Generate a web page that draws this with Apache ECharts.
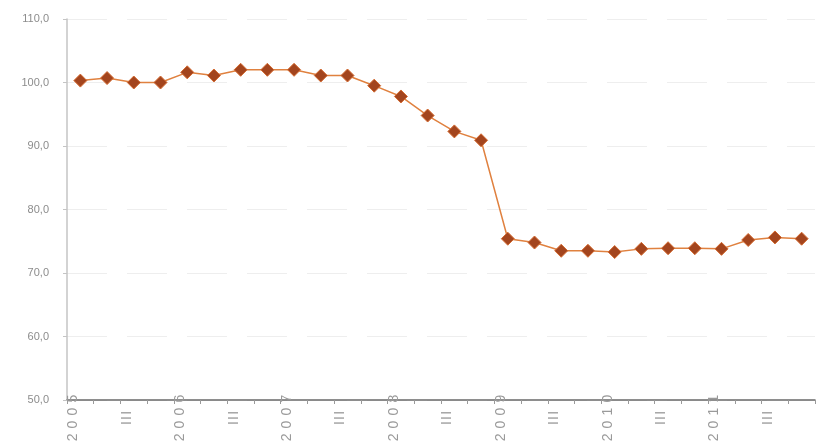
<!DOCTYPE html>
<html>
<head>
<meta charset="utf-8">
<script src="https://cdn.jsdelivr.net/npm/echarts@6/dist/echarts.min.js"></script>
<style>
  html, body { margin: 0; padding: 0; background: #ffffff; }
  #chart { width: 816px; height: 445px; }
</style>
</head>
<body>
<div id="chart"></div>
<script>
// Quarterly index, 2005 Q1 – 2011 Q4
const years = ['2005', '2006', '2007', '2008', '2009', '2010', '2011'];
const quarterMarks = ['year', '', 'III', ''];   // label shown for Q1, Q2, Q3, Q4
const indexValues = [
  100.3, 100.7, 100.0, 100.0,
  101.6, 101.1, 102.0, 102.0,
  102.0, 101.1, 101.1,  99.5,
   97.8,  94.8,  92.3,  90.9,
   75.4,  74.8,  73.5,  73.5,
   73.3,  73.8,  73.9,  73.9,
   73.8,  75.2,  75.6,  75.4
];
const yTicks = { min: 50, max: 110, step: 10 };

const categories = [];
years.forEach(y => quarterMarks.forEach(q => categories.push(q === 'year' ? y : q)));

// spread characters of the category labels out
function spaced(text) {
  if (!text) return '';
  return text.split('').map(c => (c === 'I' ? '{r|' : '{d|') + c + '}').join('');
}

const chart = echarts.init(document.getElementById('chart'), null, { renderer: 'canvas' });
chart.setOption({
  animation: false,
  backgroundColor: '#ffffff',
  grid: { left: 67, right: 1, top: 19, bottom: 45, containLabel: false },
  xAxis: {
    type: 'category',
    data: categories,
    boundaryGap: true,
    axisLine: { lineStyle: { color: '#6a6a6a', width: 1.5 } },
    axisTick: { show: true, alignWithLabel: false, interval: 0, length: 4, lineStyle: { color: '#9a9a9a' } },
    axisLabel: {
      interval: 0,
      rotate: 90,
      margin: 18,
      align: 'center',
      verticalAlign: 'bottom',
      color: '#9a9a9a',
      fontFamily: 'Liberation Sans',
      fontSize: 14,
      formatter: spaced,
      rich: {
        d: { fontSize: 14, color: '#9a9a9a', fontFamily: 'Liberation Sans', padding: [0, 2.6, 0, 2.6] },
        r: { fontSize: 14, color: '#9a9a9a', fontFamily: 'Liberation Sans', padding: [0, 0.6, 0, 0.6] }
      }
    },
    splitLine: { show: false }
  },
  yAxis: {
    type: 'value',
    min: yTicks.min,
    max: yTicks.max,
    interval: yTicks.step,
    axisLine: { show: true, lineStyle: { color: '#c4c4c4', width: 1.5 } },
    axisTick: { show: true, length: 4, lineStyle: { color: '#c4c4c4' } },
    axisLabel: {
      margin: 18,
      color: '#8c8c8c',
      fontFamily: 'Liberation Sans',
      fontSize: 11,
      formatter: v => v.toFixed(1).replace('.', ',')
    },
    splitLine: { show: true, lineStyle: { color: '#eeeeee', type: [40, 20], width: 1 } }
  },
  series: [{
    type: 'line',
    data: indexValues,
    symbol: 'diamond',
    symbolSize: 13,
    lineStyle: { color: '#e0813f', width: 1.5 },
    itemStyle: { color: '#a3451e', borderColor: '#d46a30', borderWidth: 1 }
  }]
});
</script>
</body>
</html>
